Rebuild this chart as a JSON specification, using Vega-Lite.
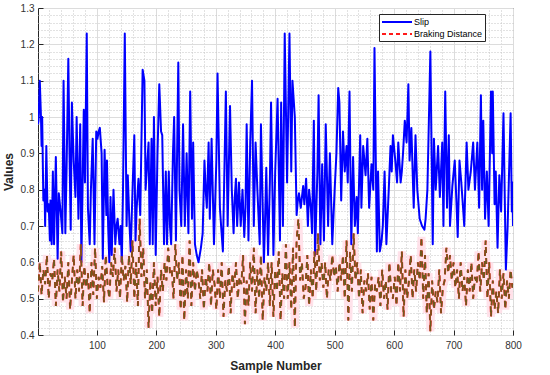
{
 "$schema": "https://vega.github.io/schema/vega-lite/v6.json",
 "width": 475, "height": 327,
 "autosize": {"type": "none"},
 "padding": {"left": 38, "top": 8, "right": 37, "bottom": 40},
 "background": "white",
 "config": {"view": {"stroke": "#262626", "strokeWidth": 1}, "font": "Liberation Sans"},
 "datasets": {
  "slip": [
{"n":1,"v":0.98},{"n":2,"v":0.99},{"n":4,"v":1.10},{"n":6,"v":1.00},{"n":7,"v":0.92},{"n":8,"v":1.00},{"n":10,"v":0.77},{"n":12,"v":0.80},{"n":13,"v":0.70},{"n":15,"v":0.92},{"n":17,"v":0.74},{"n":19,"v":0.76},{"n":21,"v":0.66},{"n":22,"v":0.77},{"n":24,"v":0.65},{"n":26,"v":0.85},{"n":28,"v":0.65},{"n":31,"v":0.89},{"n":34,"v":0.61},{"n":36,"v":0.79},{"n":39,"v":0.74},{"n":42,"v":0.68},{"n":44,"v":1.10},{"n":47,"v":0.68},{"n":49,"v":0.85},{"n":52,"v":1.16},{"n":54,"v":0.90},{"n":56,"v":0.69},{"n":58,"v":1.04},{"n":61,"v":0.88},{"n":64,"v":0.78},{"n":66,"v":1.00},{"n":69,"v":0.72},{"n":72,"v":0.98},{"n":74,"v":0.60},{"n":78,"v":1.02},{"n":80,"v":0.82},{"n":83,"v":1.23},{"n":85,"v":0.75},{"n":88,"v":0.65},{"n":90,"v":0.80},{"n":93,"v":0.94},{"n":96,"v":0.65},{"n":99,"v":0.96},{"n":101,"v":0.94},{"n":103,"v":0.96},{"n":105,"v":0.97},{"n":108,"v":0.90},{"n":110,"v":0.61},{"n":113,"v":0.91},{"n":116,"v":0.73},{"n":117,"v":0.88},{"n":119,"v":0.70},{"n":121,"v":0.60},{"n":123,"v":0.78},{"n":125,"v":0.62},{"n":128,"v":0.80},{"n":131,"v":0.65},{"n":133,"v":0.70},{"n":135,"v":0.72},{"n":138,"v":0.65},{"n":140,"v":0.70},{"n":142,"v":0.60},{"n":144,"v":0.80},{"n":147,"v":1.23},{"n":150,"v":0.70},{"n":152,"v":0.84},{"n":155,"v":0.70},{"n":157,"v":0.63},{"n":160,"v":0.80},{"n":163,"v":0.95},{"n":165,"v":0.66},{"n":167,"v":0.75},{"n":170,"v":0.83},{"n":173,"v":0.73},{"n":177,"v":1.13},{"n":180,"v":1.10},{"n":182,"v":0.80},{"n":185,"v":0.88},{"n":187,"v":0.93},{"n":189,"v":0.65},{"n":192,"v":0.94},{"n":194,"v":0.65},{"n":196,"v":1.00},{"n":199,"v":0.62},{"n":202,"v":0.90},{"n":205,"v":1.09},{"n":208,"v":0.96},{"n":210,"v":0.95},{"n":213,"v":0.65},{"n":216,"v":0.85},{"n":218,"v":0.65},{"n":221,"v":0.85},{"n":223,"v":0.70},{"n":225,"v":0.65},{"n":228,"v":0.90},{"n":230,"v":1.00},{"n":233,"v":0.66},{"n":237,"v":1.15},{"n":239,"v":0.80},{"n":242,"v":0.70},{"n":245,"v":0.98},{"n":248,"v":0.70},{"n":251,"v":0.90},{"n":254,"v":0.68},{"n":257,"v":1.07},{"n":260,"v":0.72},{"n":262,"v":0.93},{"n":265,"v":0.65},{"n":268,"v":0.62},{"n":271,"v":0.60},{"n":275,"v":0.64},{"n":278,"v":0.68},{"n":281,"v":0.88},{"n":283,"v":0.80},{"n":285,"v":0.75},{"n":288,"v":0.93},{"n":290,"v":0.72},{"n":293,"v":0.94},{"n":297,"v":0.65},{"n":301,"v":0.88},{"n":303,"v":1.12},{"n":307,"v":0.75},{"n":309,"v":0.70},{"n":312,"v":0.63},{"n":317,"v":1.07},{"n":320,"v":0.70},{"n":324,"v":1.03},{"n":327,"v":0.80},{"n":330,"v":0.68},{"n":332,"v":0.78},{"n":334,"v":0.83},{"n":336,"v":0.70},{"n":339,"v":0.82},{"n":342,"v":0.70},{"n":345,"v":0.80},{"n":348,"v":0.67},{"n":350,"v":0.75},{"n":352,"v":0.98},{"n":355,"v":0.66},{"n":358,"v":0.93},{"n":361,"v":1.10},{"n":364,"v":0.70},{"n":367,"v":0.93},{"n":370,"v":0.80},{"n":374,"v":0.65},{"n":376,"v":0.98},{"n":379,"v":0.75},{"n":381,"v":0.60},{"n":383,"v":0.72},{"n":385,"v":0.86},{"n":388,"v":0.62},{"n":391,"v":0.82},{"n":393,"v":1.04},{"n":397,"v":0.62},{"n":400,"v":0.85},{"n":404,"v":1.05},{"n":408,"v":0.66},{"n":410,"v":1.04},{"n":413,"v":0.70},{"n":416,"v":1.23},{"n":420,"v":0.82},{"n":424,"v":1.23},{"n":427,"v":0.85},{"n":429,"v":1.10},{"n":433,"v":1.00},{"n":436,"v":0.73},{"n":438,"v":0.77},{"n":440,"v":0.79},{"n":443,"v":0.75},{"n":447,"v":0.81},{"n":449,"v":0.76},{"n":452,"v":0.83},{"n":455,"v":0.70},{"n":457,"v":0.80},{"n":460,"v":0.75},{"n":462,"v":0.68},{"n":465,"v":0.99},{"n":467,"v":0.62},{"n":471,"v":0.85},{"n":473,"v":1.06},{"n":476,"v":0.65},{"n":479,"v":0.87},{"n":482,"v":0.66},{"n":485,"v":0.98},{"n":489,"v":0.70},{"n":492,"v":0.90},{"n":496,"v":0.65},{"n":500,"v":0.80},{"n":503,"v":0.90},{"n":506,"v":1.08},{"n":508,"v":1.04},{"n":511,"v":0.77},{"n":514,"v":0.96},{"n":517,"v":0.85},{"n":520,"v":0.92},{"n":522,"v":0.82},{"n":525,"v":1.07},{"n":528,"v":0.65},{"n":531,"v":0.89},{"n":534,"v":0.70},{"n":537,"v":0.78},{"n":539,"v":0.68},{"n":543,"v":0.95},{"n":545,"v":0.75},{"n":548,"v":0.92},{"n":552,"v":0.84},{"n":555,"v":0.94},{"n":558,"v":0.75},{"n":562,"v":0.87},{"n":565,"v":0.80},{"n":567,"v":1.19},{"n":571,"v":0.63},{"n":573,"v":0.85},{"n":576,"v":0.63},{"n":579,"v":0.66},{"n":581,"v":0.70},{"n":584,"v":0.85},{"n":587,"v":0.65},{"n":591,"v":0.80},{"n":594,"v":0.92},{"n":596,"v":0.85},{"n":598,"v":0.95},{"n":602,"v":0.88},{"n":605,"v":0.82},{"n":607,"v":0.93},{"n":611,"v":0.82},{"n":613,"v":0.85},{"n":615,"v":0.90},{"n":618,"v":0.99},{"n":621,"v":0.93},{"n":624,"v":1.09},{"n":626,"v":0.88},{"n":629,"v":0.97},{"n":633,"v":0.75},{"n":636,"v":0.95},{"n":639,"v":0.80},{"n":643,"v":0.72},{"n":647,"v":0.70},{"n":651,"v":0.69},{"n":653,"v":0.72},{"n":656,"v":0.80},{"n":661,"v":1.18},{"n":665,"v":0.65},{"n":667,"v":0.94},{"n":670,"v":0.80},{"n":674,"v":0.92},{"n":677,"v":0.78},{"n":681,"v":0.93},{"n":683,"v":0.70},{"n":686,"v":1.07},{"n":689,"v":0.75},{"n":692,"v":0.95},{"n":694,"v":0.70},{"n":698,"v":0.81},{"n":702,"v":0.88},{"n":705,"v":0.76},{"n":707,"v":0.67},{"n":710,"v":0.88},{"n":713,"v":0.82},{"n":716,"v":0.75},{"n":718,"v":0.70},{"n":722,"v":0.93},{"n":725,"v":0.80},{"n":729,"v":0.85},{"n":733,"v":0.93},{"n":736,"v":0.80},{"n":740,"v":0.93},{"n":743,"v":0.75},{"n":746,"v":1.06},{"n":748,"v":0.80},{"n":750,"v":0.99},{"n":753,"v":0.72},{"n":756,"v":0.85},{"n":759,"v":0.70},{"n":763,"v":1.07},{"n":765,"v":0.90},{"n":766,"v":1.07},{"n":769,"v":0.76},{"n":771,"v":0.85},{"n":774,"v":0.64},{"n":777,"v":0.84},{"n":780,"v":0.74},{"n":784,"v":1.01},{"n":788,"v":0.58},{"n":791,"v":0.70},{"n":796,"v":1.01},{"n":798,"v":0.74},{"n":799,"v":0.82},{"n":800,"v":0.70}
  ],
  "brake": [
{"n":1,"v":0.52},{"n":4,"v":0.60},{"n":7,"v":0.51},{"n":10,"v":0.58},{"n":13,"v":0.54},{"n":16,"v":0.62},{"n":19,"v":0.50},{"n":22,"v":0.57},{"n":25,"v":0.55},{"n":28,"v":0.61},
{"n":31,"v":0.48},{"n":34,"v":0.58},{"n":37,"v":0.52},{"n":40,"v":0.63},{"n":43,"v":0.49},{"n":46,"v":0.56},{"n":49,"v":0.50},{"n":52,"v":0.60},{"n":55,"v":0.47},{"n":58,"v":0.55},
{"n":61,"v":0.62},{"n":64,"v":0.50},{"n":67,"v":0.58},{"n":70,"v":0.52},{"n":73,"v":0.65},{"n":76,"v":0.48},{"n":79,"v":0.59},{"n":82,"v":0.53},{"n":85,"v":0.57},{"n":88,"v":0.46},
{"n":91,"v":0.60},{"n":94,"v":0.51},{"n":97,"v":0.64},{"n":100,"v":0.50},{"n":103,"v":0.56},{"n":106,"v":0.53},{"n":109,"v":0.59},{"n":112,"v":0.49},{"n":115,"v":0.62},{"n":118,"v":0.54},
{"n":121,"v":0.50},{"n":124,"v":0.60},{"n":127,"v":0.56},{"n":130,"v":0.64},{"n":133,"v":0.52},{"n":136,"v":0.58},{"n":139,"v":0.50},{"n":142,"v":0.62},{"n":145,"v":0.55},{"n":148,"v":0.59},
{"n":151,"v":0.49},{"n":154,"v":0.62},{"n":157,"v":0.54},{"n":160,"v":0.66},{"n":163,"v":0.50},{"n":166,"v":0.60},{"n":169,"v":0.48},{"n":172,"v":0.72},{"n":175,"v":0.56},{"n":178,"v":0.64},
{"n":181,"v":0.50},{"n":184,"v":0.58},{"n":187,"v":0.42},{"n":190,"v":0.55},{"n":193,"v":0.46},{"n":196,"v":0.60},{"n":199,"v":0.48},{"n":202,"v":0.56},{"n":205,"v":0.45},{"n":208,"v":0.58},
{"n":211,"v":0.52},{"n":214,"v":0.60},{"n":217,"v":0.55},{"n":220,"v":0.64},{"n":223,"v":0.57},{"n":226,"v":0.58},{"n":229,"v":0.50},{"n":232,"v":0.65},{"n":235,"v":0.55},{"n":238,"v":0.60},
{"n":241,"v":0.47},{"n":244,"v":0.62},{"n":247,"v":0.44},{"n":250,"v":0.58},{"n":253,"v":0.50},{"n":256,"v":0.66},{"n":259,"v":0.48},{"n":262,"v":0.60},{"n":265,"v":0.52},{"n":268,"v":0.58},
{"n":271,"v":0.55},{"n":274,"v":0.50},{"n":277,"v":0.58},{"n":280,"v":0.47},{"n":283,"v":0.56},{"n":286,"v":0.52},{"n":289,"v":0.60},{"n":292,"v":0.48},{"n":295,"v":0.58},{"n":298,"v":0.54},
{"n":301,"v":0.47},{"n":304,"v":0.58},{"n":307,"v":0.50},{"n":310,"v":0.60},{"n":313,"v":0.45},{"n":316,"v":0.55},{"n":319,"v":0.52},{"n":322,"v":0.59},{"n":325,"v":0.46},{"n":328,"v":0.57},
{"n":331,"v":0.53},{"n":334,"v":0.60},{"n":337,"v":0.50},{"n":340,"v":0.56},{"n":343,"v":0.54},{"n":346,"v":0.62},{"n":349,"v":0.43},{"n":352,"v":0.55},{"n":355,"v":0.48},{"n":358,"v":0.60},
{"n":361,"v":0.52},{"n":364,"v":0.64},{"n":367,"v":0.46},{"n":370,"v":0.58},{"n":373,"v":0.50},{"n":376,"v":0.62},{"n":379,"v":0.44},{"n":382,"v":0.56},{"n":385,"v":0.52},{"n":388,"v":0.60},
{"n":391,"v":0.48},{"n":394,"v":0.60},{"n":397,"v":0.45},{"n":400,"v":0.58},{"n":403,"v":0.52},{"n":406,"v":0.63},{"n":409,"v":0.44},{"n":412,"v":0.57},{"n":415,"v":0.50},{"n":418,"v":0.65},
{"n":421,"v":0.50},{"n":424,"v":0.60},{"n":427,"v":0.47},{"n":430,"v":0.64},{"n":433,"v":0.42},{"n":436,"v":0.66},{"n":439,"v":0.72},{"n":442,"v":0.55},{"n":445,"v":0.60},{"n":448,"v":0.50},
{"n":451,"v":0.53},{"n":454,"v":0.62},{"n":457,"v":0.48},{"n":460,"v":0.58},{"n":463,"v":0.50},{"n":466,"v":0.63},{"n":469,"v":0.52},{"n":472,"v":0.68},{"n":475,"v":0.55},{"n":478,"v":0.60},
{"n":481,"v":0.53},{"n":484,"v":0.60},{"n":487,"v":0.50},{"n":490,"v":0.58},{"n":493,"v":0.55},{"n":496,"v":0.62},{"n":499,"v":0.56},{"n":502,"v":0.59},{"n":505,"v":0.52},{"n":508,"v":0.60},
{"n":511,"v":0.55},{"n":514,"v":0.62},{"n":517,"v":0.50},{"n":520,"v":0.66},{"n":523,"v":0.44},{"n":526,"v":0.63},{"n":529,"v":0.52},{"n":532,"v":0.68},{"n":535,"v":0.55},{"n":538,"v":0.60},
{"n":541,"v":0.50},{"n":544,"v":0.58},{"n":547,"v":0.46},{"n":550,"v":0.55},{"n":553,"v":0.52},{"n":556,"v":0.57},{"n":559,"v":0.47},{"n":562,"v":0.56},{"n":565,"v":0.44},{"n":568,"v":0.54},
{"n":571,"v":0.52},{"n":574,"v":0.56},{"n":577,"v":0.48},{"n":580,"v":0.58},{"n":583,"v":0.50},{"n":586,"v":0.55},{"n":589,"v":0.47},{"n":592,"v":0.60},{"n":595,"v":0.52},{"n":598,"v":0.50},
{"n":601,"v":0.56},{"n":604,"v":0.48},{"n":607,"v":0.60},{"n":610,"v":0.52},{"n":613,"v":0.63},{"n":616,"v":0.45},{"n":619,"v":0.58},{"n":622,"v":0.50},{"n":625,"v":0.55},{"n":628,"v":0.62},
{"n":631,"v":0.50},{"n":634,"v":0.58},{"n":637,"v":0.52},{"n":640,"v":0.60},{"n":643,"v":0.55},{"n":646,"v":0.67},{"n":649,"v":0.50},{"n":652,"v":0.62},{"n":655,"v":0.46},{"n":658,"v":0.57},
{"n":661,"v":0.41},{"n":664,"v":0.55},{"n":667,"v":0.47},{"n":670,"v":0.52},{"n":673,"v":0.49},{"n":676,"v":0.58},{"n":679,"v":0.46},{"n":682,"v":0.53},{"n":685,"v":0.55},{"n":688,"v":0.64},
{"n":691,"v":0.57},{"n":694,"v":0.62},{"n":697,"v":0.55},{"n":700,"v":0.60},{"n":703,"v":0.53},{"n":706,"v":0.58},{"n":709,"v":0.50},{"n":712,"v":0.60},{"n":715,"v":0.52},{"n":718,"v":0.56},
{"n":721,"v":0.48},{"n":724,"v":0.58},{"n":727,"v":0.52},{"n":730,"v":0.60},{"n":733,"v":0.50},{"n":736,"v":0.56},{"n":739,"v":0.54},{"n":742,"v":0.63},{"n":745,"v":0.52},{"n":748,"v":0.60},
{"n":751,"v":0.55},{"n":754,"v":0.66},{"n":757,"v":0.50},{"n":760,"v":0.60},{"n":763,"v":0.45},{"n":766,"v":0.55},{"n":769,"v":0.47},{"n":772,"v":0.52},{"n":775,"v":0.46},{"n":778,"v":0.58},
{"n":781,"v":0.50},{"n":784,"v":0.57},{"n":787,"v":0.47},{"n":790,"v":0.55},{"n":793,"v":0.50},{"n":796,"v":0.58},{"n":799,"v":0.53}
  ]
 },
 "layer": [
  {
   "data": {"name": "brake"},
   "mark": {"type": "line", "color": "#ffdfe8", "strokeWidth": 8, "opacity": 0.9, "clip": true},
   "encoding": {
    "x": {"field": "n", "type": "quantitative", "scale": {"domain": [1, 800], "nice": false, "zero": false},
     "axis": {"orient": "top", "values": [20,40,60,80,120,140,160,180,220,240,260,280,320,340,360,380,420,440,460,480,520,540,560,580,620,640,660,680,720,740,760,780],
      "grid": true, "gridDash": [1, 2], "gridColor": "#c4c4c4", "labels": false, "ticks": false, "domain": false, "title": null}},
    "y": {"field": "v", "type": "quantitative", "scale": {"domain": [0.4, 1.3], "nice": false, "zero": false},
     "axis": {"orient": "right", "values": [0.42,0.44,0.46,0.48,0.52,0.54,0.56,0.58,0.62,0.64,0.66,0.68,0.72,0.74,0.76,0.78,0.82,0.84,0.86,0.88,0.92,0.94,0.96,0.98,1.02,1.04,1.06,1.08,1.12,1.14,1.16,1.18,1.22,1.24,1.26,1.28],
      "grid": true, "gridDash": [1, 2], "gridColor": "#c4c4c4", "labels": false, "ticks": false, "domain": false, "title": null}}
   }
  },
  {
   "data": {"name": "slip"},
   "mark": {"type": "line", "strokeWidth": 2, "strokeJoin": "round", "clip": true},
   "encoding": {
    "x": {"field": "n", "type": "quantitative",
     "axis": {"orient": "bottom", "values": [100,200,300,400,500,600,700,800], "grid": true, "gridColor": "#dcdcdc", "labelFlush": false,
      "domain": false, "tickSize": -5, "tickColor": "#262626", "labelPadding": 10, "labelFontSize": 10, "labelColor": "#333333", "labelFont": "Liberation Sans",
      "title": "Sample Number", "titleFontSize": 12, "titleFontWeight": "bold", "titleColor": "#262626", "titleFont": "Liberation Sans", "titleY": 30, "titleBaseline": "middle"}},
    "y": {"field": "v", "type": "quantitative",
     "axis": {"orient": "left", "values": [0.4,0.5,0.6,0.7,0.8,0.9,1,1.1,1.2,1.3], "format": "~g", "grid": true, "gridColor": "#dcdcdc", "labelFlush": false,
      "domain": false, "tickSize": -5, "tickColor": "#262626", "labelPadding": 9, "labelFontSize": 10, "labelColor": "#333333", "labelFont": "Liberation Sans",
      "title": "Values", "titleFontSize": 12, "titleFontWeight": "bold", "titleColor": "#262626", "titleFont": "Liberation Sans", "titleX": -30, "titleY": 163.5, "titleBaseline": "middle"}},
    "color": {"datum": "Slip", "type": "nominal",
     "scale": {"domain": ["Slip", "Braking Distance"], "range": ["#0000ff", "#ff1a1a"]},
     "legend": {"orient": "none", "legendX": 341, "legendY": 6, "title": null, "symbolType": "M-1,0H5", "symbolSize": 100, "symbolStrokeWidth": 2,
      "labelFontSize": 9, "labelFont": "Liberation Sans", "labelColor": "#000000", "fillColor": "white", "strokeColor": "#262626", "padding": 2, "rowPadding": 1, "labelOffset": 21,
      "encode": {"symbols": {"update": {"strokeDash": {"signal": "datum.label == 'Braking Distance' ? [4, 3] : [1, 0]"}}}}}}
   }
  },
  {
   "data": {"name": "brake"},
   "mark": {"type": "line", "strokeWidth": 2, "strokeDash": [6, 5], "clip": true},
   "encoding": {
    "x": {"field": "n", "type": "quantitative", "axis": null},
    "y": {"field": "v", "type": "quantitative", "axis": null},
    "color": {"datum": "Braking Distance", "type": "nominal"}
   }
  },
  {
   "data": {"name": "brake"},
   "mark": {"type": "line", "strokeWidth": 1.6, "strokeDash": [6, 5], "color": "#6e5a1e", "clip": true},
   "encoding": {
    "x": {"field": "n", "type": "quantitative", "axis": null},
    "y": {"field": "v", "type": "quantitative", "axis": null}
   }
  }
 ],
 "resolve": {"axis": {"x": "independent", "y": "independent"}}
}
